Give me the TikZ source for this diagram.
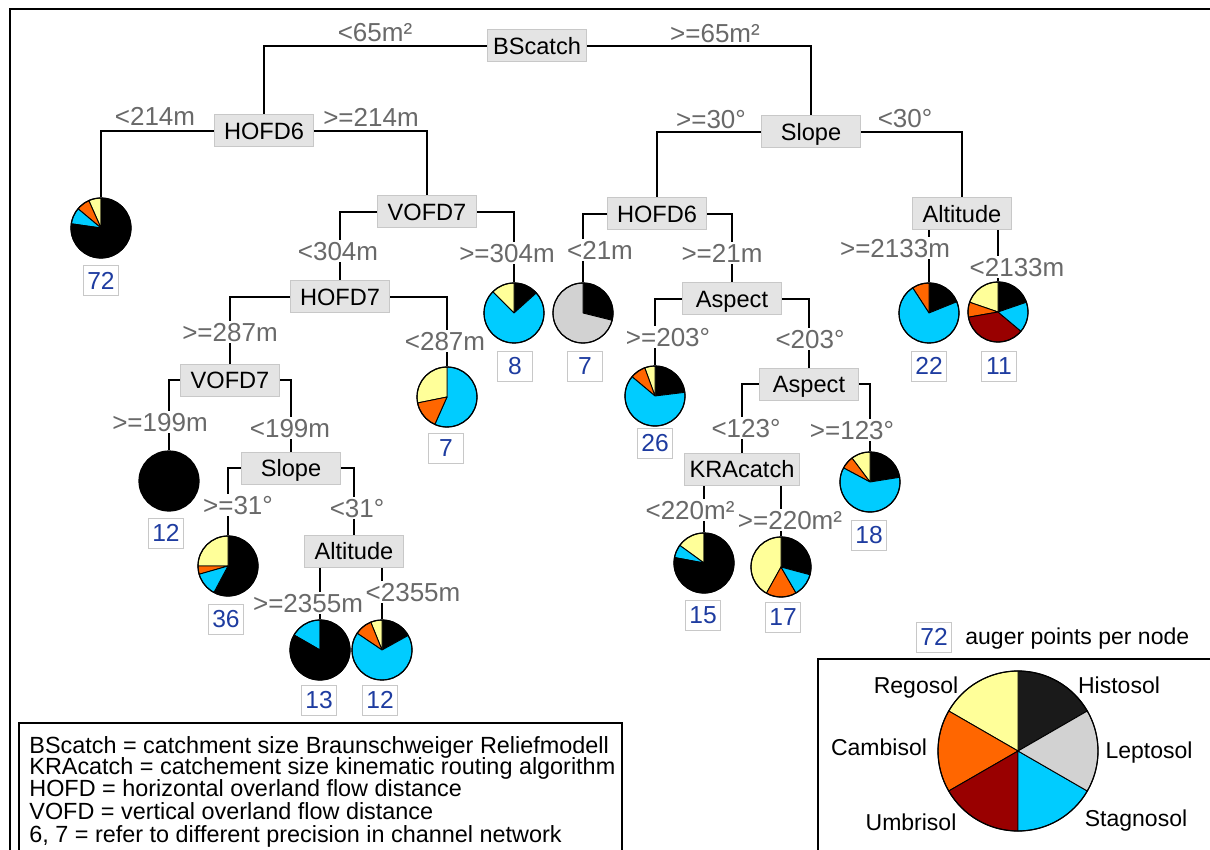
\documentclass[tikz,border=0pt]{standalone}
\usepackage{fontspec}
\setmainfont{Liberation Sans}
\definecolor{cy}{RGB}{0,204,255}
\definecolor{og}{RGB}{255,102,0}
\definecolor{yl}{RGB}{255,255,153}
\definecolor{dr}{RGB}{153,0,0}
\definecolor{lg}{RGB}{210,210,210}
\definecolor{hb}{RGB}{26,26,26}
\definecolor{boxfill}{RGB}{228,228,228}
\definecolor{boxdraw}{RGB}{200,200,200}
\definecolor{lbl}{RGB}{105,105,105}
\definecolor{numc}{RGB}{30,60,160}
\newcommand\myslice[5]{\filldraw[fill=#1,draw=black,line width=0.45pt,line join=round] (#2) -- ++(#3:#5) arc[start angle=#3,end angle=#4,radius=#5] -- cycle;}
\newcommand\mys[4]{\myslice{#1}{#2}{#3}{#4}{15pt}}
\tikzset{
  split/.style={fill=boxfill,draw=boxdraw,line width=0.5pt,minimum width=49.5pt,minimum height=16pt,inner xsep=2.5pt,inner ysep=0pt,text height=8.6pt,text depth=0pt,font=\fontsize{11.8}{13}\selectfont},
  lab/.style={fill=white,text=lbl,inner xsep=0.5pt,inner ysep=0.8pt,text height=9.3pt,text depth=0pt,font=\fontsize{13}{15}\selectfont},
  num/.style={draw=boxdraw,line width=0.5pt,text=numc,minimum width=17.5pt,minimum height=15pt,inner sep=0pt,text height=8.8pt,text depth=0pt,font=\fontsize{12.3}{14}\selectfont},
  pie/.style={circle,draw=black,line width=0.6pt,minimum size=30pt,inner sep=0pt},
  conn/.style={draw=black,line width=0.75pt},
  legtxt/.style={anchor=west,inner sep=0pt,text height=8.3pt,text depth=0pt,font=\fontsize{11.7}{13}\selectfont},
  soil/.style={inner sep=0pt,text height=8.2pt,text depth=0pt,font=\fontsize{11.5}{13}\selectfont},
}
\begin{document}
\begin{tikzpicture}[x=0.5pt,y=-0.5pt]
\useasboundingbox (0,0) rectangle (1210,850);
\clip (0,0) rectangle (1210,850);
\fill[white] (0,0) rectangle (1210,850);
% outer frame
\draw[line width=0.75pt] (10,852) -- (10,9) -- (1212,9);

% ---------- pies ----------
\coordinate (c72) at (101,228);
\mys{yl}{c72}{90}{114}\mys{og}{c72}{114}{140}\mys{cy}{c72}{140}{172}\mys{black}{c72}{172}{450}
\node[pie] (p72) at (c72) {};
\coordinate (c8) at (514,313);
\mys{black}{c8}{42}{90}\mys{yl}{c8}{90}{135}\mys{cy}{c8}{135}{402}
\node[pie] (p8) at (c8) {};
\coordinate (c7g) at (583,313);
\mys{black}{c7g}{-14}{90}\mys{lg}{c7g}{90}{346}
\node[pie] (p7g) at (c7g) {};
\coordinate (c26) at (655,396);
\mys{black}{c26}{7}{90}\mys{yl}{c26}{90}{110}\mys{og}{c26}{110}{140}\mys{cy}{c26}{140}{367}
\node[pie] (p26) at (c26) {};
\coordinate (c22) at (929,313);
\mys{black}{c22}{22}{90}\mys{og}{c22}{90}{123}\mys{cy}{c22}{123}{382}
\node[pie] (p22) at (c22) {};
\coordinate (c11) at (998,312);
\mys{black}{c11}{19}{90}\mys{yl}{c11}{90}{161}\mys{og}{c11}{161}{190}\mys{dr}{c11}{190}{320}\mys{cy}{c11}{320}{379}
\node[pie] (p11) at (c11) {};
\coordinate (c36) at (228,566);
\mys{black}{c36}{-118}{90}\mys{yl}{c36}{90}{180}\mys{og}{c36}{180}{196}\mys{cy}{c36}{196}{242}
\node[pie] (p36) at (c36) {};
\coordinate (c12b) at (169,481);
\fill[black] (c12b) circle[radius=15pt];
\node[pie] (p12b) at (c12b) {};
\coordinate (c13) at (320,650);
\mys{cy}{c13}{90}{150}\mys{black}{c13}{150}{450}
\node[pie] (p13) at (c13) {};
\coordinate (c12) at (382,650);
\mys{black}{c12}{29}{90}\mys{yl}{c12}{90}{112}\mys{og}{c12}{112}{146}\mys{cy}{c12}{146}{389}
\node[pie] (p12) at (c12) {};
\coordinate (c15) at (704,563);
\mys{yl}{c15}{90}{144}\mys{cy}{c15}{144}{169.5}\mys{black}{c15}{169.5}{450}
\node[pie] (p15) at (c15) {};
\coordinate (c17) at (781,567);
\mys{black}{c17}{-15}{90}\mys{yl}{c17}{90}{241}\mys{og}{c17}{241}{300}\mys{cy}{c17}{300}{345}
\node[pie] (p17) at (c17) {};
\coordinate (c18) at (870,482);
\mys{black}{c18}{9}{90}\mys{yl}{c18}{90}{127}\mys{og}{c18}{127}{152}\mys{cy}{c18}{152}{369}
\node[pie] (p18) at (c18) {};
\coordinate (c7a) at (447,397);
\mys{cy}{c7a}{-114}{90}\mys{yl}{c7a}{90}{191.5}\mys{og}{c7a}{191.5}{246}
\node[pie] (p7a) at (c7a) {};

% ---------- split boxes (positions) ----------
\node[split] (bs) at (537,46) {BScatch};
\node[split] (hofdL) at (264,131) {HOFD6};
\node[split] (slope) at (811,132) {Slope};
\node[split] (vofd) at (427,212) {VOFD7};
\node[split] (hofdR) at (657,214) {HOFD6};
\node[split] (alt) at (962,214) {Altitude};
\node[split] (hofd7) at (340,297) {HOFD7};
\node[split] (asp) at (732,299) {Aspect};
\node[split] (vofdL) at (230,380) {VOFD7};
\node[split] (asp2) at (809,384) {Aspect};
\node[split] (slopeL) at (291,468) {Slope};
\node[split] (kra) at (742,469) {KRAcatch};
\node[split] (altL) at (354,551) {Altitude};

% ---------- connectors ----------
\draw[conn] (bs.west) -| (hofdL.north);
\draw[conn] (bs.east) -| (slope.north);
\draw[conn] (hofdL.west) -| (p72.north);
\draw[conn] (hofdL.east) -| (vofd.north);
\draw[conn] (slope.west) -| (hofdR.north);
\draw[conn] (slope.east) -| (alt.north);
\draw[conn] (vofd.west) -| (hofd7.north);
\draw[conn] (vofd.east) -| (p8.north);
\draw[conn] (hofdR.west) -| (p7g.north);
\draw[conn] (hofdR.east) -| (asp.north);
\draw[conn] (alt.south -| p22.north) -- (p22.north);
\draw[conn] (alt.south -| p11.north) -- (p11.north);
\draw[conn] (hofd7.west) -| (vofdL.north);
\draw[conn] (hofd7.east) -| (p7a.north);
\draw[conn] (asp.west) -| (p26.north);
\draw[conn] (asp.east) -| (asp2.north);
\draw[conn] (vofdL.west) -| (p12b.north);
\draw[conn] (vofdL.east) -| (slopeL.north);
\draw[conn] (asp2.west) -| (kra.north);
\draw[conn] (asp2.east) -| (p18.north);
\draw[conn] (slopeL.west) -| (p36.north);
\draw[conn] (slopeL.east) -| (altL.north);
\draw[conn] (kra.south -| p15.north) -- (p15.north);
\draw[conn] (kra.south -| p17.north) -- (p17.north);
\draw[conn] (altL.south -| p13.north) -- (p13.north);
\draw[conn] (altL.south -| p12.north) -- (p12.north);
% boxes drawn again over the lines
\foreach \n/\t in {bs/BScatch,hofdL/HOFD6,slope/Slope,vofd/VOFD7,hofdR/HOFD6,alt/Altitude,hofd7/HOFD7,asp/Aspect,vofdL/VOFD7,asp2/Aspect,slopeL/Slope,kra/KRAcatch,altL/Altitude}
  \node[split] at (\n) {\t};

% ---------- labels ----------
\node[lab] (l1) at (375,32) {<65m²};
\node[lab] (l2) at (715,33) {>=65m²};
\node[lab] (l3) at (155,116) {<214m};
\node[lab] (l4) at (371,117) {>=214m};
\node[lab] (l5) at (711,119) {>=30°};
\node[lab] (l6) at (905,118) {<30°};
\node[lab] (l7) at (338,251) {<304m};
\node[lab] (l8) at (507,253) {>=304m};
\node[lab] (l9) at (600,250) {<21m};
\node[lab] (l10) at (722,253) {>=21m};
\node[lab] (l11) at (895,248) {>=2133m};
\node[lab] (l12) at (1017,267) {<2133m};
\node[lab] (l13) at (230,332) {>=287m};
\node[lab] (l14) at (445,341) {<287m};
\node[lab] (l15) at (668,337) {>=203°};
\node[lab] (l16) at (810,339) {<203°};
\node[lab] (l17) at (160,422) {>=199m};
\node[lab] (l18) at (290,428) {<199m};
\node[lab] (l19) at (746,428) {<123°};
\node[lab] (l20) at (852,430) {>=123°};
\node[lab] (l21) at (238,505) {>=31°};
\node[lab] (l22) at (357,508) {<31°};
\node[lab] (l23) at (690,510) {<220m²};
\node[lab] (l24) at (790,520) {>=220m²};
\node[lab] (l25) at (308,603) {>=2355m};
\node[lab] (l26) at (413,592) {<2355m};

% ---------- counts ----------
\node[num] (n72) at (101,281) {72};
\node[num] (n8) at (515,366) {8};
\node[num] (n7g) at (585,366) {7};
\node[num] (n22) at (929,366) {22};
\node[num] (n11) at (999,366) {11};
\node[num] (n7a) at (446,448) {7};
\node[num] (n26) at (655,443) {26};
\node[num] (n12b) at (166,533) {12};
\node[num] (n18) at (869,535) {18};
\node[num] (n36) at (226,619) {36};
\node[num] (n15) at (703,615) {15};
\node[num] (n17) at (783,617) {17};
\node[num] (n13) at (319,700) {13};
\node[num] (n12) at (380,700) {12};

% ---------- legend (counts) ----------
\node[num] (nleg) at (934,637) {72};
\node[soil,anchor=west] (auger) at (965,636) {auger points per node};

% ---------- legend (soils) ----------
\draw[line width=0.75pt] (818,852) -- (818,659) -- (1212,659);
\coordinate (cl) at (1018,751);
\myslice{hb}{cl}{30}{90}{40pt}
\myslice{yl}{cl}{90}{150}{40pt}
\myslice{og}{cl}{150}{210}{40pt}
\myslice{dr}{cl}{210}{270}{40pt}
\myslice{cy}{cl}{270}{330}{40pt}
\myslice{lg}{cl}{330}{390}{40pt}
\node[circle,draw=black,line width=0.6pt,minimum size=80pt,inner sep=0pt] (lpie) at (cl) {};
\node[soil] (sRe) at (916,685) {Regosol};
\node[soil] (sHi) at (1119,685) {Histosol};
\node[soil] (sCa) at (879,747) {Cambisol};
\node[soil] (sLe) at (1149,750) {Leptosol};
\node[soil] (sUm) at (911,822) {Umbrisol};
\node[soil] (sSt) at (1136,818) {Stagnosol};

% ---------- legend (abbreviations) ----------
\draw[line width=0.75pt] (19,852) -- (19,723) -- (622,723) -- (622,852);
\node[legtxt] (t1) at (29,745) {BScatch = catchment size Braunschweiger Reliefmodell};
\node[legtxt] (t2) at (29,766) {KRAcatch = catchement size kinematic routing algorithm};
\node[legtxt] (t3) at (29,788) {HOFD = horizontal overland flow distance};
\node[legtxt] (t4) at (29,811) {VOFD = vertical overland flow distance};
\node[legtxt] (t5) at (29,834) {6, 7 = refer to different precision in channel network};
\end{tikzpicture}
\end{document}
